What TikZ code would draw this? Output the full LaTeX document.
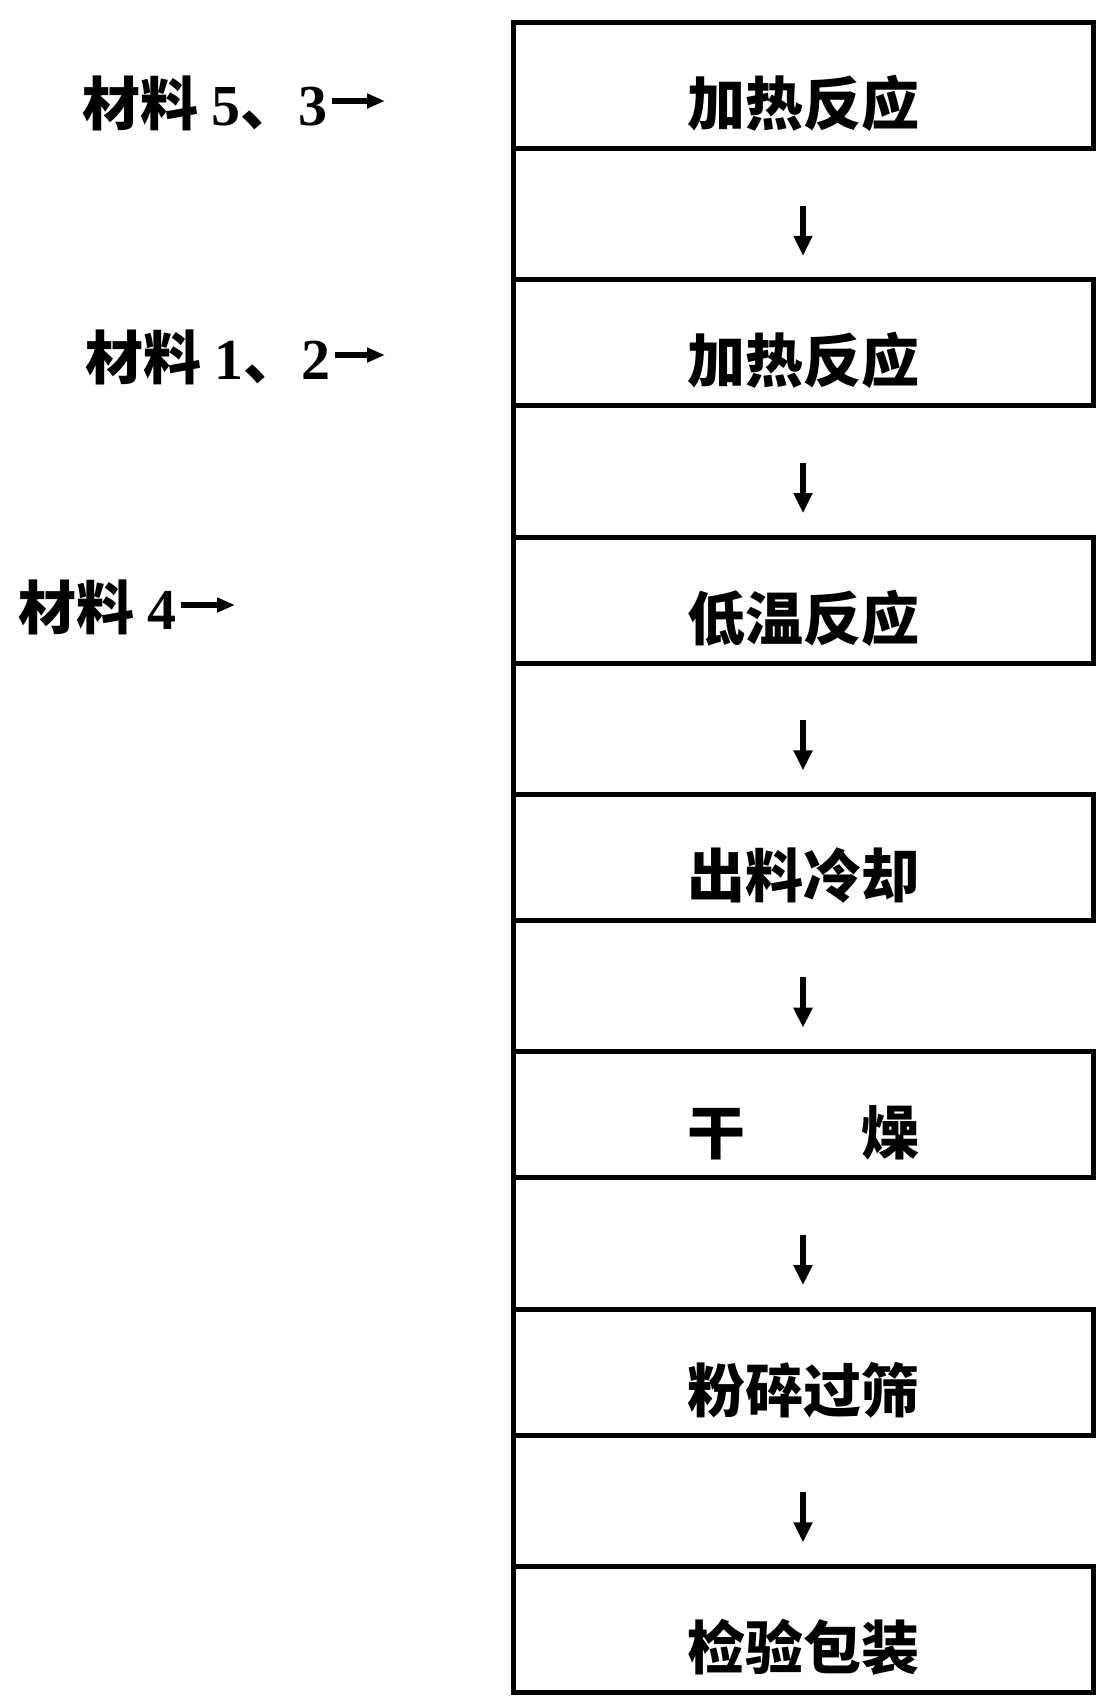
\documentclass[tikz,border=0pt]{standalone}
\usepackage{fontspec}
\newfontfamily\cjk{Noto Sans CJK SC}
\newfontfamily\numfont{Liberation Serif}
\usetikzlibrary{arrows.meta}
\tikzset{
  stepbox/.style={draw, line width=2.5pt, minimum width=290pt, minimum height=63pt, inner sep=0pt, outer sep=0pt},
  steptext/.style={font=\cjk\bfseries\fontsize{29pt}{29pt}\selectfont, inner sep=0pt},
  lab/.style={font=\cjk\bfseries\fontsize{29pt}{29pt}\selectfont, inner sep=0pt, anchor=west},
  flow/.style={line width=2.8pt, -{Triangle[length=10pt,width=9pt]}},
  labarrow/.style={line width=2.8pt, -{Triangle[length=9pt,width=7pt]}}
}
\begin{document}
\begin{tikzpicture}[x=0.5pt,y=-0.5pt]
\useasboundingbox (0,0) rectangle (1120,1705);
% boxes
\node[stepbox] (b1) at (803, 85.5) {};
\node[stepbox] (b2) at (803, 342.8) {};
\node[stepbox] (b3) at (803, 600.1) {};
\node[stepbox] (b4) at (803, 857.4) {};
\node[stepbox] (b5) at (803, 1114.7) {};
\node[stepbox] (b6) at (803, 1372.0) {};
\node[stepbox] (b7) at (803, 1629.3) {};
% box texts
\node[steptext] (t1) at (803, 103.5) {加热反应};
\node[steptext] (t2) at (803, 360.8) {加热反应};
\node[steptext] (t3) at (803, 618.1) {低温反应};
\node[steptext] (t4) at (803, 875.4) {出料冷却};
\node[steptext] (t5) at (803, 1132.7) {干\hspace{2em}燥};
\node[steptext] (t6) at (803, 1390.0) {粉碎过筛};
\node[steptext] (t7) at (803, 1647.3) {检验包装};
% left spine
\draw[line width=2.5pt] (b1.north west) -- (b7.south west);
% flow arrows
\foreach \i/\j in {1/2,2/3,3/4,4/5,5/6,6/7}{
  \draw[flow] ([yshift=-28.5pt]b\i.south) -- ([yshift=12pt]b\j.north);
}
% material labels
\node[lab] (l1) at (82, 103) {材料 {\numfont\bfseries 5}、{\numfont\bfseries 3}};
\node[lab] (l2) at (85, 357) {材料 {\numfont\bfseries 1}、{\numfont\bfseries 2}};
\node[lab] (l3) at (18, 607) {材料 {\numfont\bfseries 4}};
\coordinate (a1) at (385, 101);
\coordinate (a2) at (385, 355);
\coordinate (a3) at (235, 605);
\draw[labarrow] ([xshift=2pt]l1.east |- a1) -- (a1);
\draw[labarrow] ([xshift=2pt]l2.east |- a2) -- (a2);
\draw[labarrow] ([xshift=2pt]l3.east |- a3) -- (a3);
\end{tikzpicture}
\end{document}
